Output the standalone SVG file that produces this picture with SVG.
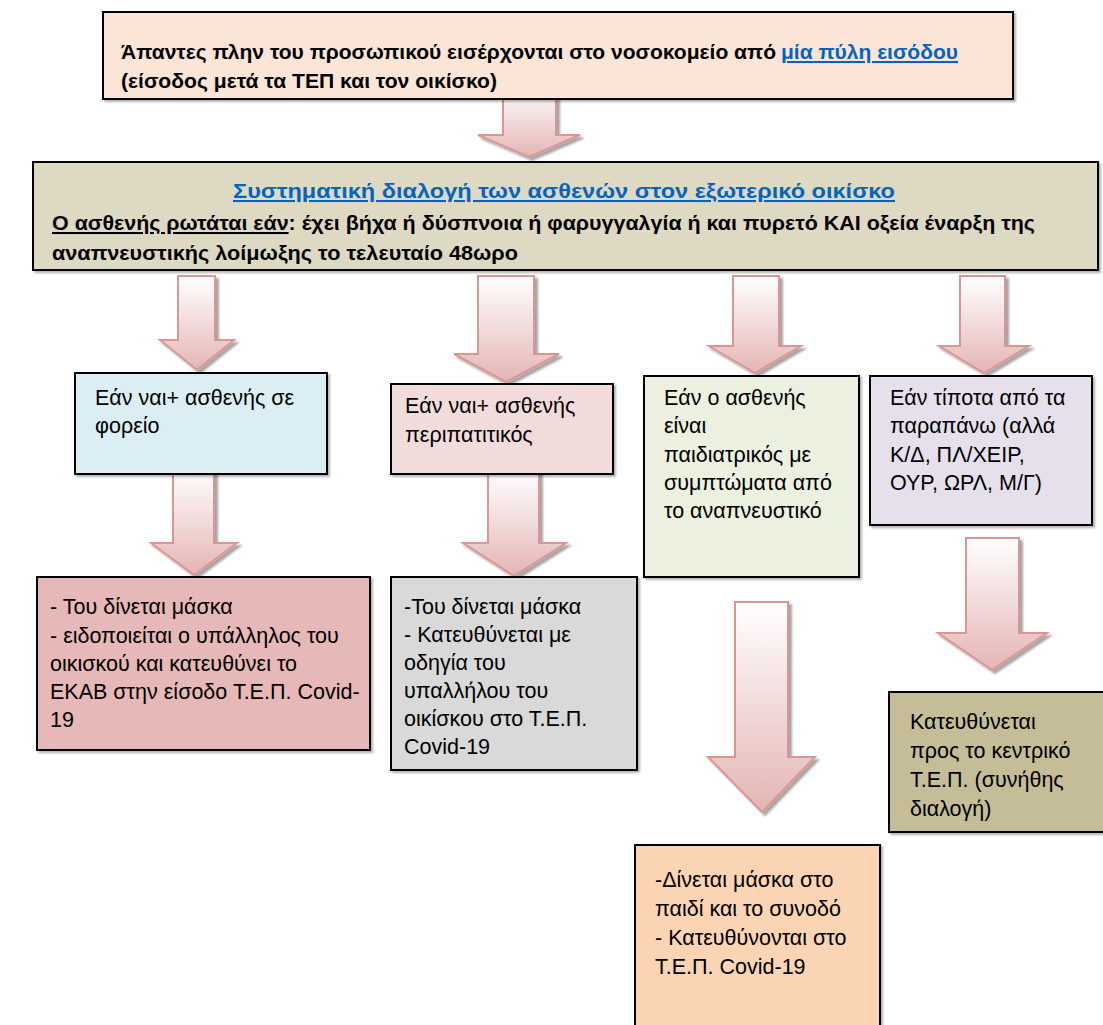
<svg xmlns="http://www.w3.org/2000/svg" width="1103" height="1025" viewBox="0 0 1103 1025">
<defs>
  <linearGradient id="arrowGrad" x1="0" y1="0" x2="0" y2="1">
    <stop offset="0" stop-color="#FFFFFF"/>
    <stop offset="1" stop-color="#E4B5B4"/>
  </linearGradient>
  <filter id="arrowShadow" x="-20%" y="-20%" width="150%" height="150%">
    <feDropShadow dx="3" dy="3" stdDeviation="1" flood-color="#000" flood-opacity="0.35"/>
  </filter>
  <filter id="boxShadow" x="-5%" y="-5%" width="115%" height="115%">
    <feDropShadow dx="2" dy="2" stdDeviation="1" flood-color="#000" flood-opacity="0.3"/>
  </filter>
</defs>
<style>
  .box { stroke: #000; stroke-width: 2; filter: url(#boxShadow); }
  .arrow { fill: url(#arrowGrad); stroke: #D99694; stroke-width: 2; stroke-linejoin: miter; filter: url(#arrowShadow); }
  .t { font-family: "Liberation Sans", Arial, sans-serif; font-size: 21.5px; fill: #000; }
  .b { font-family: "Liberation Sans", Arial, sans-serif; font-size: 20.5px; font-weight: bold; fill: #000; }
  .link { fill: #0563C1; text-decoration: underline; }
  .u { text-decoration: underline; }
</style>
<rect width="1103" height="1025" fill="#FFFFFF"/>

<g id="connectors">
  <path class="arrow" d="M503,85 H556 V135 H580 L529,157 L478,135 H503 Z"/>
  <path class="arrow" d="M178,276 H215 V340 H234 L197,370 L160,340 H178 Z"/>
  <path class="arrow" d="M478,276 H534 V354 H559 L506,382 L454,354 H478 Z"/>
  <path class="arrow" d="M733,276 H779 V346 H801 L755,373 L709,346 H733 Z"/>
  <path class="arrow" d="M960,276 H1005 V346 H1029 L984,373 L939,346 H960 Z"/>
  <path class="arrow" d="M173,468 H214 V543 H237 L194,575 L151,543 H173 Z"/>
  <path class="arrow" d="M488,470 H539 V543 H566 L514,576 L463,543 H488 Z"/>
  <path class="arrow" d="M735,602 H788 V757 H815 L762,812 L708,757 H735 Z"/>
  <path class="arrow" d="M966,538 H1019 V633 H1047 L992,670 L938,633 H966 Z"/>
</g>

<g id="node-entry">
  <rect class="box" x="103" y="12" width="910" height="87" fill="#FBE5D6"/>
  <text class="b" x="121" y="59" textLength="655" lengthAdjust="spacingAndGlyphs">Άπαντες πλην του προσωπικού εισέρχονται στο νοσοκομείο από</text>
  <text class="b link" x="781" y="59" textLength="177" lengthAdjust="spacingAndGlyphs">μία πύλη εισόδου</text>
  <text class="b" x="121" y="88" textLength="376" lengthAdjust="spacingAndGlyphs">(είσοδος μετά τα ΤΕΠ και τον οικίσκο)</text>
</g>

<g id="node-triage">
  <rect class="box" x="33" y="162" width="1065" height="108" fill="#DDD9C3"/>
  <text class="b link" x="233" y="198" textLength="662" lengthAdjust="spacingAndGlyphs">Συστηματική διαλογή των ασθενών στον εξωτερικό οικίσκο</text>
  <text class="b" x="52" y="230" textLength="983" lengthAdjust="spacingAndGlyphs"><tspan class="u">Ο ασθενής ρωτάται εάν</tspan>: έχει βήχα ή δύσπνοια ή φαρυγγαλγία ή και πυρετό ΚΑΙ οξεία έναρξη της</text>
  <text class="b" x="52" y="260" textLength="466" lengthAdjust="spacingAndGlyphs">αναπνευστικής λοίμωξης το τελευταίο 48ωρο</text>
</g>

<g id="node-stretcher">
  <rect class="box" x="75" y="373" width="252" height="101" fill="#DAEEF3"/>
  <text class="t" x="95" y="405">Εάν ναι+ ασθενής σε</text>
  <text class="t" x="95" y="433">φορείο</text>
</g>

<g id="node-ambulatory">
  <rect class="box" x="391" y="384" width="222" height="90" fill="#F2DCDB"/>
  <text class="t" x="405" y="413">Εάν ναι+ ασθενής</text>
  <text class="t" x="405" y="442">περιπατιτικός</text>
</g>

<g id="node-pediatric">
  <rect class="box" x="644" y="376" width="215" height="201" fill="#EBF1DE"/>
  <text class="t" x="664" y="405">Εάν ο ασθενής</text>
  <text class="t" x="664" y="433">είναι</text>
  <text class="t" x="664" y="462">παιδιατρικός με</text>
  <text class="t" x="664" y="490">συμπτώματα από</text>
  <text class="t" x="664" y="518">το αναπνευστικό</text>
</g>

<g id="node-none">
  <rect class="box" x="870" y="376" width="222" height="149" fill="#E5E0EC"/>
  <text class="t" x="890" y="405">Εάν τίποτα από τα</text>
  <text class="t" x="890" y="433">παραπάνω (αλλά</text>
  <text class="t" x="890" y="462">Κ/Δ, ΠΛ/ΧΕΙΡ,</text>
  <text class="t" x="890" y="490">ΟΥΡ, ΩΡΛ, Μ/Γ)</text>
</g>

<g id="node-stretcher-action">
  <rect class="box" x="37" y="577" width="333" height="173" fill="#E6B8B7"/>
  <text class="t" x="50" y="614">- Του δίνεται μάσκα</text>
  <text class="t" x="50" y="643">- ειδοποιείται ο υπάλληλος του</text>
  <text class="t" x="50" y="671">οικισκού και κατευθύνει το</text>
  <text class="t" x="50" y="699">ΕΚΑΒ στην είσοδο Τ.Ε.Π. Covid-</text>
  <text class="t" x="50" y="727">19</text>
</g>

<g id="node-ambulatory-action">
  <rect class="box" x="391" y="577" width="246" height="193" fill="#D9D9D9"/>
  <text class="t" x="404" y="614">-Του δίνεται μάσκα</text>
  <text class="t" x="404" y="642">- Κατευθύνεται με</text>
  <text class="t" x="404" y="670">οδηγία του</text>
  <text class="t" x="404" y="698">υπαλλήλου του</text>
  <text class="t" x="404" y="726">οικίσκου στο Τ.Ε.Π.</text>
  <text class="t" x="404" y="754">Covid-19</text>
</g>

<g id="node-pediatric-action">
  <rect class="box" x="635" y="845" width="245" height="190" fill="#FBD4B4"/>
  <text class="t" x="655" y="887">-Δίνεται μάσκα στο</text>
  <text class="t" x="655" y="916">παιδί και το συνοδό</text>
  <text class="t" x="655" y="945">- Κατευθύνονται στο</text>
  <text class="t" x="655" y="974">Τ.Ε.Π. Covid-19</text>
</g>

<g id="node-central">
  <rect class="box" x="889" y="692" width="215" height="140" fill="#C4BD97"/>
  <text class="t" x="910" y="729">Κατευθύνεται</text>
  <text class="t" x="910" y="758">προς το κεντρικό</text>
  <text class="t" x="910" y="787">Τ.Ε.Π. (συνήθης</text>
  <text class="t" x="910" y="816">διαλογή)</text>
</g>
</svg>
